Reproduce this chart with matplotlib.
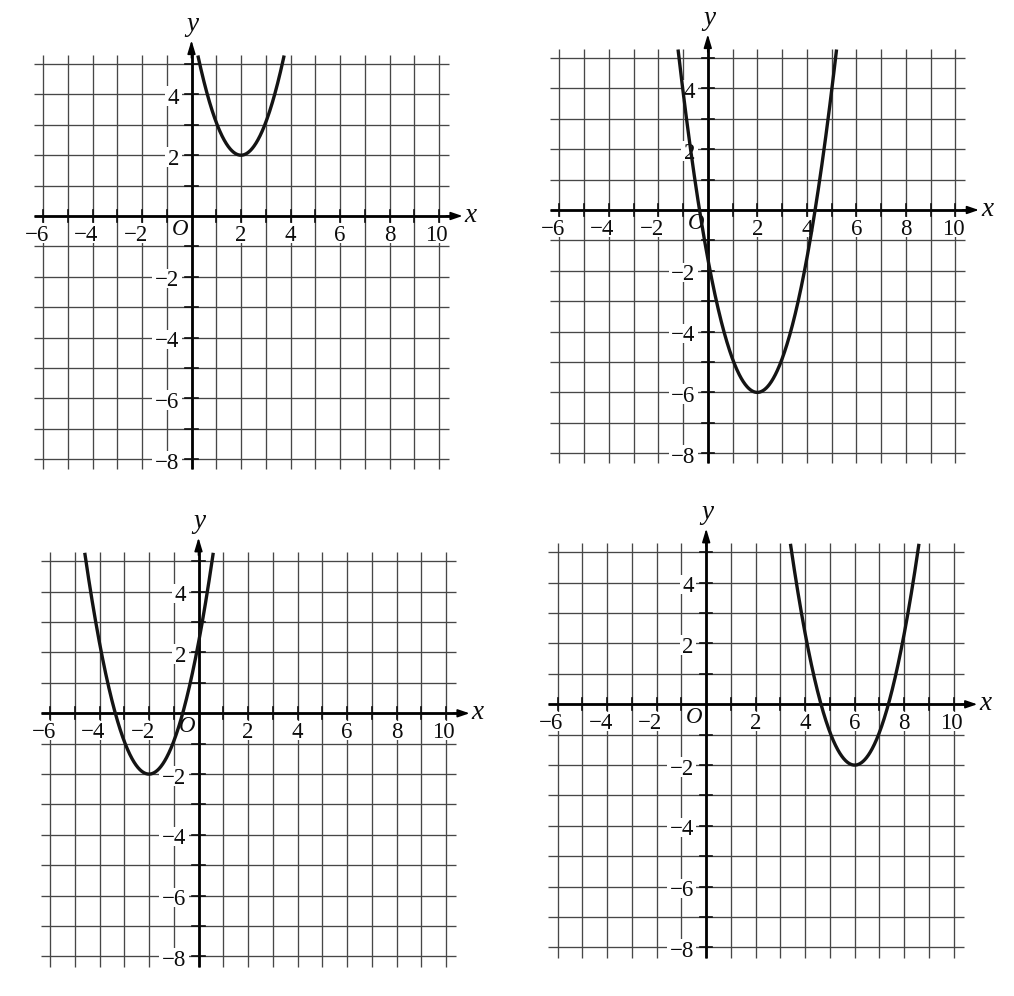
import numpy as np
import matplotlib
matplotlib.use("Agg")
import matplotlib.pyplot as plt
from matplotlib.patches import Rectangle

# ---------------- data ----------------
VERTEX_X = [2, 2, -2, 6]          # parabola vertex x for each panel
VERTEX_Y = [2, -6, -2, -2]        # parabola vertex y for each panel
LEAD_COEF = [1.08, 1.10, 1.08, 1.08]
CURVE_TOP = 5.28                  # curves are drawn up to this y

X_TICK_VALUES = [-6, -4, -2, 2, 4, 6, 8, 10]
X_TICK_LABELS = ["\u22126", "\u22124", "\u22122", "2", "4", "6", "8", "10"]
Y_TICK_VALUES = [4, 2, -2, -4, -6, -8]
Y_TICK_LABELS = ["4", "2", "\u22122", "\u22124", "\u22126", "\u22128"]
GRID_X = list(range(-6, 11))
GRID_Y = list(range(-8, 6))

# ---------------- layout ----------------
W, H, DPI = 1014, 996, 100
PX, PY = 24.75, 30.4             # pixels per unit
ORIGINS = [(191.5, 216.0), (707.8, 210.0), (198.5, 713.3), (706.2, 704.3)]
XMIN, XMAX, YMIN, YMAX = -7.0, 11.8, -9.0, 6.8
GX0, GX1, GY0, GY1 = -6.38, 10.40, -8.33, 5.30

SERIF = ["Liberation Serif", "DejaVu Serif"]
FS = 16.5
EM = FS * DPI / 72.0
CHAR_W = {"\u2212": 0.564}
DIGIT_H = 0.676
INK = "#0c0c0c"

fig = plt.figure(figsize=(W / DPI, H / DPI), dpi=DPI)
fig.patch.set_facecolor("white")


def label_width(s):
    return sum(CHAR_W.get(c, 0.5) for c in s) * EM / PX


def put_label(ax, s, x_right, y_base):
    w = label_width(s)
    h = DIGIT_H * EM / PY
    padx, pady = 2.5 / PX, 2.0 / PY
    ax.add_patch(Rectangle((x_right - w - padx, y_base - pady), w + 2 * padx,
                           h + 2 * pady, facecolor="white", edgecolor="none",
                           zorder=2))
    ax.text(x_right, y_base, s, ha="right", va="baseline", fontsize=FS,
            family=SERIF, color=INK, zorder=3)


for i, (x0, y0) in enumerate(ORIGINS):
    left_px = x0 + XMIN * PX
    top_px = y0 - YMAX * PY
    wpx = (XMAX - XMIN) * PX
    hpx = (YMAX - YMIN) * PY
    ax = fig.add_axes([left_px / W, 1 - (top_px + hpx) / H, wpx / W, hpx / H])
    ax.set_xlim(XMIN, XMAX)
    ax.set_ylim(YMIN, YMAX)
    ax.axis("off")

    # grid
    for gx in GRID_X:
        ax.plot([gx, gx], [GY0, GY1], color="#474747", lw=0.95, zorder=1,
                solid_capstyle="butt")
    for gy in GRID_Y:
        ax.plot([GX0, GX1], [gy, gy], color="#474747", lw=0.95, zorder=1,
                solid_capstyle="butt")

    # axes with arrows
    ax.plot([GX0, 10.6], [0, 0], color="black", lw=2.0, zorder=4,
            solid_capstyle="butt")
    ax.plot([0, 0], [GY0, 5.5], color="black", lw=2.0, zorder=4,
            solid_capstyle="butt")
    ax.annotate("", xy=(10.95, 0), xytext=(10.3, 0),
                arrowprops=dict(arrowstyle="-|>,head_length=0.7,head_width=0.24",
                                color="black", lw=1.2, shrinkA=0, shrinkB=0),
                zorder=5)
    ax.annotate("", xy=(0, 5.78), xytext=(0, 5.2),
                arrowprops=dict(arrowstyle="-|>,head_length=0.8,head_width=0.24",
                                color="black", lw=1.2, shrinkA=0, shrinkB=0),
                zorder=5)

    # small ticks on axes
    for gx in GRID_X:
        if gx != 0:
            ax.plot([gx, gx], [-0.2, 0.2], color=INK, lw=1.2, zorder=4)
    for gy in GRID_Y:
        if gy != 0:
            ax.plot([-0.25, 0.25], [gy, gy], color=INK, lw=1.2, zorder=4)

    # tick labels
    half_digit = 0.5 * EM / PX / 2
    for v, s in zip(X_TICK_VALUES, X_TICK_LABELS):
        if s.startswith("\u2212"):
            put_label(ax, s, v + half_digit, -0.82)
        else:
            put_label(ax, s, v + label_width(s) / 2 - 0.1 * (len(s) > 1), -0.82)
    for v, s in zip(Y_TICK_VALUES, Y_TICK_LABELS):
        put_label(ax, s, -0.5, v - 0.31)

    # axis names and origin
    ax.text(11.28, -0.19, "x", fontsize=19.5, family=SERIF, style="italic",
            ha="center", va="baseline", color=INK, zorder=6)
    ax.text(0.04, 6.1, "y", fontsize=19.5, family=SERIF, style="italic",
            ha="center", va="baseline", color=INK, zorder=6)
    ax.text(-0.48, -0.62, "O", fontsize=16.5, family=SERIF, style="italic",
            ha="center", va="baseline", color=INK, zorder=6)

    # parabola
    h, k, a = VERTEX_X[i], VERTEX_Y[i], LEAD_COEF[i]
    half = np.sqrt((CURVE_TOP - k) / a)
    xs = np.linspace(h - half, h + half, 400)
    ys = a * (xs - h) ** 2 + k
    ax.plot(xs, ys, color="#141414", lw=2.4, zorder=7, solid_capstyle="butt")

fig.savefig("out.png", dpi=DPI, facecolor="white")
